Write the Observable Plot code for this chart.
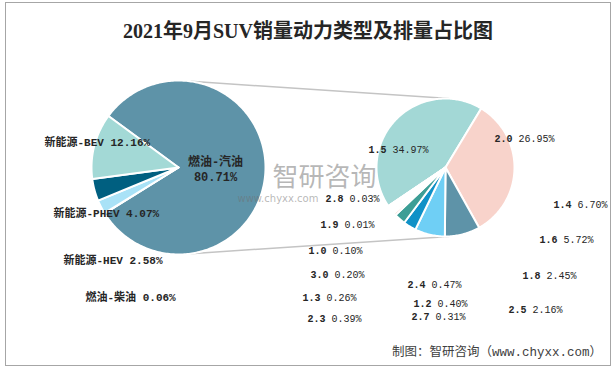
<!DOCTYPE html>
<html><head><meta charset="utf-8">
<script src="https://cdn.jsdelivr.net/npm/d3@7"></script>
<script src="https://cdn.jsdelivr.net/npm/@observablehq/plot@0.6"></script>
<style>
body{margin:0;background:#fff;}
#wrap{position:relative;width:616px;height:369px;overflow:hidden;}
#frame{position:absolute;left:5px;top:2px;width:606px;height:364px;border:1.5px solid #a6a6a6;box-sizing:border-box;}
#title{position:absolute;left:0;top:17px;width:616px;text-align:center;font:bold 20px/28px "Liberation Serif","Noto Sans CJK SC",serif;color:#262626;}
#chart{position:absolute;left:0;top:48px;}
#footer{position:absolute;right:14px;top:344px;font:12.5px/18px "Liberation Mono","Noto Sans CJK SC",monospace;color:#404040;white-space:nowrap;}
</style></head><body>
<div id="wrap"><div id="frame"></div><div id="title">2021年9月SUV销量动力类型及排量占比图</div><div id="chart"></div><div id="footer">制图：智研咨询（www.chyxx.com）</div></div>
<script>
// ---- data ----
const powerTypes = ["燃油-汽油","燃油-柴油","新能源-HEV","新能源-PHEV","新能源-BEV"];
const powerShares = [80.71, 0.06, 2.58, 4.07, 12.16];
const powerColors = ["#5e93a8","#e8e8e8","#a9e2f7","#005f80","#a3d9d6"];

const displacements = ["1.5","2.0","1.4","1.6","1.8","2.5","2.4","1.2","2.3","2.7","1.3","3.0","1.0","2.8","1.9"];
const displacementShares = [34.97, 26.95, 6.70, 5.72, 2.45, 2.16, 0.47, 0.40, 0.39, 0.31, 0.26, 0.20, 0.10, 0.03, 0.01];
const displacementColors = ["#a3d8d6","#f8d3cb","#5e93a8","#6fcff5","#0f91c7","#3d9e96","#f3c2b8","#d9eef0","#c7e6f2","#e6f4f7","#f5dcd6","#dff1ef","#edf7fa","#f9e6e2","#f2f2f2"];

// ---- layout (pixels) ----
const L = {cx: 178, cy: 167, r: 87, start: -53.7};
const R = {cx: 445, cy: 167, r: 69, start: -124};
const leftLabelPos = [[215,0],[85,297],[63,260],[53,213],[44,142]];
const rightLabelPos = [[368,149],[494,138],[553,204],[539,239],[522,275],[508,309],[407,284],[413,303],[307,318],[411,316],[302,297],[310,274],[308,250],[325,198],[320,224]];

const rad = d => d * Math.PI / 180;
function slices(names, values, P) {
  const arcs = d3.pie().sort(null).startAngle(rad(P.start)).endAngle(rad(P.start) + 2*Math.PI)(values);
  const pts = [];
  arcs.forEach((a, i) => {
    const key = names[i];
    pts.push({key, x: P.cx, y: P.cy});
    const n = Math.max(2, Math.ceil((a.endAngle - a.startAngle) / rad(1)));
    for (let k = 0; k <= n; k++) {
      const t = a.startAngle + (a.endAngle - a.startAngle) * k / n;
      pts.push({key, x: P.cx + P.r * Math.sin(t), y: P.cy - P.r * Math.cos(t)});
    }
    pts.push({key, x: P.cx, y: P.cy});
  });
  return pts;
}
const pt = (P, deg) => [P.cx + P.r*Math.sin(rad(deg)), P.cy - P.r*Math.cos(rad(deg))];
const links = [[pt(L,8), pt(R,3)], [pt(L,172), pt(R,177)]].map(([a,b]) => ({x1:a[0], y1:a[1], x2:b[0], y2:b[1]}));

const fmt = v => d3.format(".2f")(v) + "%";
const leftLabels = powerTypes.slice(1).map((k, i) => ({text: `${k} ${fmt(powerShares[i+1])}`, x: leftLabelPos[i+1][0], y: leftLabelPos[i+1][1]}));
const mainLabel = [{text: powerTypes[0], x: leftLabelPos[0][0], y: 162}, {text: fmt(powerShares[0]), x: leftLabelPos[0][0], y: 177}];
const rightLabels = displacements.map((k, i) => ({cat: k, val: fmt(displacementShares[i]), x: rightLabelPos[i][0], y: rightLabelPos[i][1]}));

const mono = "Liberation Mono, Noto Sans CJK SC, monospace";
const chart = Plot.plot({
  width: 616, height: 290,
  margin: 0,
  x: {domain: [0, 616], range: [0, 616], axis: null},
  y: {domain: [48, 338], range: [0, 290], axis: null},
  color: {type: "ordinal", domain: [...powerTypes, ...displacements], range: [...powerColors, ...displacementColors]},
  style: {background: "transparent", overflow: "visible"},
  marks: [
    Plot.link(links, {x1:"x1", y1:"y1", x2:"x2", y2:"y2", stroke:"#c4c4c4", strokeWidth:1.5}),
    Plot.line(slices(powerTypes, powerShares, L), {x:"x", y:"y", z:"key", fill:"key", stroke:"white", strokeWidth:2, strokeLinejoin:"round", curve:"linear"}),
    Plot.line(slices(displacements, displacementShares, R), {x:"x", y:"y", z:"key", fill:"key", stroke:"white", strokeWidth:2, strokeLinejoin:"round", curve:"linear"}),
    Plot.text([{t:"智研咨询"}], {text:"t", x:()=>324, y:()=>177, fontSize:26, fill:"#707070", fillOpacity:0.5, fontFamily:"Noto Sans CJK SC", textAnchor:"middle"}),
    Plot.text([{t:"www.chyxx.com"}], {text:"t", x:()=>237, y:()=>198, fontSize:10, fill:"#707070", fillOpacity:0.5, fontFamily:"DejaVu Sans", textAnchor:"start"}),
    Plot.text(mainLabel, {text:"text", x:"x", y:"y", fontSize:12, fontWeight:"bold", fill:"#262626", fontFamily:mono, textAnchor:"middle"}),
    Plot.text(leftLabels, {text:"text", x:"x", y:"y", fontSize:11, fontWeight:"bold", fill:"#262626", fontFamily:mono, textAnchor:"start"}),
    Plot.text(rightLabels, {text:"cat", x:"x", y:"y", fontSize:10, fontWeight:"bold", fill:"#262626", fontFamily:mono, textAnchor:"start"}),
    Plot.text(rightLabels, {text:"val", x:d => d.x + 24, y:"y", fontSize:10, fill:"#262626", fontFamily:mono, textAnchor:"start"})
  ]
});
document.getElementById("chart").appendChild(chart);
</script>
</body></html>
